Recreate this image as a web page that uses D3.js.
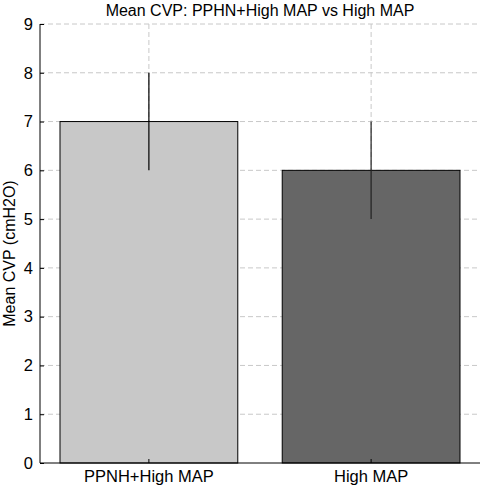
<!DOCTYPE html>
<html>
<head>
<meta charset="utf-8">
<script src="https://cdn.jsdelivr.net/npm/d3@7"></script>
<style>
  body { margin: 0; background: #fff; }
  svg text { font-family: "Liberation Sans", Arial, sans-serif; }
</style>
</head>
<body>
<div id="chart"></div>
<script>
const categories = ["PPNH+High MAP", "High MAP"];
const means = [7, 6];
const errLow = [6, 5];
const errHigh = [8, 7];
const barColors = ["#c8c8c8", "#666666"];
const yTicks = [0, 1, 2, 3, 4, 5, 6, 7, 8, 9];

const width = 484, height = 487;
const m = {top: 24, right: 4, bottom: 24, left: 40};
const w = width - m.left - m.right;
const h = height - m.top - m.bottom;

const svg = d3.select("#chart").append("svg")
  .attr("width", width)
  .attr("height", height);

const g = svg.append("g").attr("transform", `translate(${m.left},${m.top})`);

const x = d3.scaleBand().domain(categories).range([0, w]).paddingInner(0.2).paddingOuter(0.09);
const y = d3.scaleLinear().domain([0, 9]).range([h, 0]);
const cx = d => x(d) + x.bandwidth() / 2;

// grid
g.append("g").selectAll("line.hg")
  .data(yTicks.slice(1))
  .join("line")
  .attr("x1", 0).attr("x2", w)
  .attr("y1", d => y(d)).attr("y2", d => y(d))
  .attr("stroke", "#c8c8c8").attr("stroke-dasharray", "5,3");

g.append("g").selectAll("line.vg")
  .data(categories)
  .join("line")
  .attr("x1", cx).attr("x2", cx)
  .attr("y1", 0).attr("y2", h)
  .attr("stroke", "#c8c8c8").attr("stroke-dasharray", "5,3");

// bars
g.selectAll("rect.bar")
  .data(categories)
  .join("rect")
  .attr("x", d => x(d))
  .attr("width", x.bandwidth())
  .attr("y", (d, i) => y(means[i]))
  .attr("height", (d, i) => h - y(means[i]))
  .attr("fill", (d, i) => barColors[i])
  .attr("stroke", "#000")
  .attr("stroke-width", 1);

// error bars
g.selectAll("line.err")
  .data(categories)
  .join("line")
  .attr("x1", cx).attr("x2", cx)
  .attr("y1", (d, i) => y(errLow[i]))
  .attr("y2", (d, i) => y(errHigh[i]))
  .attr("stroke", (d, i) => i === 0 ? "#000" : "#222")
  .attr("stroke-width", 1.2);

// axes
const yAxis = g.append("g")
  .call(d3.axisLeft(y).tickValues(yTicks).tickSize(-4).tickPadding(7).tickFormat(d3.format("d")));
yAxis.select(".domain").attr("d", `M0,${h}V0`).attr("stroke", "#000");
yAxis.selectAll("text").attr("font-size", 16.5).attr("fill", "#000");

const xAxis = g.append("g")
  .attr("transform", `translate(0,${h})`)
  .call(d3.axisBottom(x).tickSize(-4).tickPadding(7));
xAxis.select(".domain").attr("d", `M0,0H${w}`).attr("stroke", "#000");
xAxis.selectAll("text").attr("font-size", 16.5).attr("fill", "#000");

// labels
svg.append("text")
  .attr("x", m.left + w / 2).attr("y", 16)
  .attr("text-anchor", "middle")
  .attr("font-size", 16)
  .text("Mean CVP: PPHN+High MAP vs High MAP");

svg.append("text")
  .attr("transform", `translate(15,${m.top + h / 2 + 10}) rotate(-90)`)
  .attr("text-anchor", "middle")
  .attr("font-size", 16)
  .text("Mean CVP (cmH2O)");
</script>
</body>
</html>
